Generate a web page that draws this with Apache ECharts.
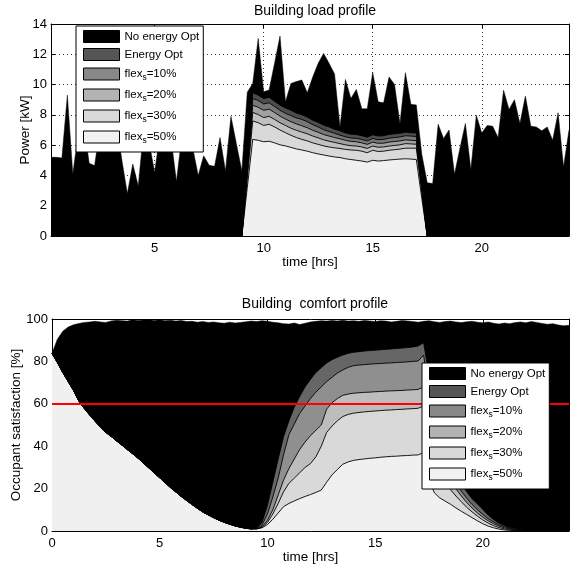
<!DOCTYPE html>
<html>
<head>
<meta charset="utf-8">
<script src="https://cdn.jsdelivr.net/npm/echarts@6/dist/echarts.min.js"></script>
<style>html,body{margin:0;padding:0;background:#fff}#c{width:570px;height:571px}</style>
</head>
<body>
<div id="c"></div>
<script>
// ---------- shared ----------
const STEP = 0.25; // hours between samples
const NAMES = ['No energy Opt', 'Energy Opt', 'flex_s=10%', 'flex_s=20%', 'flex_s=30%', 'flex_s=50%'];
const EXTRA_NAME = 'flex_s=40%';
const LEGEND_COLORS = ['#000000', '#555555', '#888888', '#b3b3b3', '#d9d9d9', '#f2f2f2'];

// ---------- top: Building load profile ----------
const LOAD_T0 = 0.25;
const LOAD_X_TICKS = [5, 10, 15, 20];
const LOAD_NO_OPT = [
  5.2, 5.2, 5.15, 9.3, 4.1, 6.8, 7.5, 4.8,
  4.65, 7.2, 6.6, 8.0, 7.5, 5.0, 2.8, 4.75,
  3.3, 7.0, 6.2, 4.2, 6.8, 7.3, 6.5, 3.6,
  6.6, 6.8, 5.8, 4.0, 5.3, 4.67, 4.6, 6.5,
  4.3, 7.9, 6.1, 4.3, 9.5, 10.07, 13.05, 9.52,
  9.64, 11.4, 13.2, 8.86, 10.07, 10.2, 10.3, 9.46,
  10.5, 11.4, 12.06, 11.4, 10.7, 7.2, 10.34, 9.08,
  9.68, 8.4, 8.4, 10.8, 8.86, 8.8, 10.5, 10.0,
  7.43, 10.78, 8.7, 8.65, 5.4, 3.51, 3.46, 7.38,
  6.44, 7.0, 4.08, 5.8, 7.43, 4.39, 7.98, 6.8,
  7.3, 7.25, 6.5, 9.63, 8.36, 9.0, 7.43, 9.24,
  7.25, 7.2, 6.95, 7.2, 6.33, 8.14, 4.56, 7.0
];
const LOAD_OPT_T0 = 9.0;
const LOAD_ENERGY_OPT = [0, 4.7, 9.46, 9.3, 9.08, 9.15, 8.9, 8.64, 8.45, 8.3, 8.12, 8.0, 7.85, 7.65, 7.5, 7.32, 7.2, 7.05, 6.95, 6.8, 6.72, 6.7, 6.62, 6.52, 6.68, 6.6, 6.62, 6.7, 6.75, 6.78, 6.85, 6.82, 6.8, 3.4, 0];
const LOAD_FLEX10 = [0, 4.5, 9.08, 8.95, 8.72, 8.8, 8.55, 8.3, 8.1, 7.95, 7.8, 7.7, 7.55, 7.35, 7.2, 7.02, 6.9, 6.78, 6.66, 6.55, 6.47, 6.45, 6.38, 6.28, 6.44, 6.36, 6.38, 6.46, 6.5, 6.54, 6.62, 6.6, 6.57, 3.3, 0];
const LOAD_FLEX20 = [0, 4.3, 8.64, 8.5, 8.3, 8.38, 8.15, 7.92, 7.72, 7.55, 7.4, 7.28, 7.15, 6.98, 6.85, 6.7, 6.6, 6.5, 6.42, 6.32, 6.25, 6.22, 6.15, 6.05, 6.2, 6.12, 6.13, 6.2, 6.24, 6.28, 6.35, 6.32, 6.3, 3.15, 0];
const LOAD_FLEX30 = [0, 4.1, 8.16, 8.02, 7.82, 7.9, 7.7, 7.48, 7.3, 7.12, 6.98, 6.86, 6.75, 6.6, 6.48, 6.35, 6.26, 6.18, 6.1, 6.02, 5.96, 5.94, 5.88, 5.78, 5.94, 5.86, 5.88, 5.94, 5.98, 6.02, 6.1, 6.08, 6.06, 3.0, 0];
const LOAD_FLEX40 = [0, 3.8, 7.6, 7.48, 7.3, 7.38, 7.2, 7.0, 6.82, 6.65, 6.5, 6.38, 6.28, 6.15, 6.05, 5.95, 5.88, 5.82, 5.78, 5.72, 5.68, 5.66, 5.6, 5.5, 5.66, 5.58, 5.6, 5.66, 5.7, 5.74, 5.8, 5.8, 5.8, 2.9, 0];
const LOAD_FLEX50 = [0, 3.2, 6.38, 6.32, 6.22, 6.26, 6.15, 6.02, 5.95, 5.85, 5.75, 5.68, 5.6, 5.5, 5.42, 5.35, 5.28, 5.22, 5.18, 5.1, 5.05, 5.0, 4.95, 4.88, 5.0, 4.95, 4.98, 5.02, 5.05, 5.08, 5.1, 5.08, 5.05, 2.5, 0];
const LOAD_COLORS = ['#000000', '#4d4d4d', '#777777', '#a1a1a1', '#c1c1c1', '#d9d9d9', '#f0f0f0'];

// ---------- bottom: Building comfort profile ----------
const COMFORT_T0 = 0;
const COMFORT_X_TICKS = [0, 5, 10, 15, 20];
const COMFORT_THRESHOLD = 60;
const COMFORT_NO_OPT = [
  83.8, 90.5, 94.2, 96.2, 97.3, 97.9, 98.4, 98.6,
  98.9, 98.6, 98.4, 99.1, 99.4, 99.2, 99.0, 99.6,
  99.3, 99.5, 99.7, 99.3, 99.6, 99.2, 99.4, 99.0,
  99.3, 98.8, 98.9, 98.5, 98.8, 98.4, 98.6, 98.2,
  98.0, 98.5, 98.1, 98.4, 98.7, 99.0, 98.8, 99.2,
  98.9, 98.5, 98.2, 97.8, 97.6, 98.1, 97.4, 98.0,
  98.6, 98.9, 99.2, 99.0, 99.3, 99.1, 99.4, 99.0,
  99.2, 98.9, 99.3, 99.1, 98.8, 99.2, 99.0, 98.6,
  98.9, 99.3, 99.1, 98.8, 98.5, 98.9, 99.2, 98.7,
  98.4, 98.8, 99.0, 98.6, 98.3, 98.7, 98.9, 98.5,
  98.2, 98.6, 98.0, 97.6, 98.1, 97.8, 98.3, 98.6,
  98.2, 98.8, 98.4, 97.9, 97.5, 97.8, 97.2, 96.8,
  97.0
];
// all optimised cases share the same night-time decay (0 .. 9.25 h)
const COMFORT_MORNING = [
  83.8, 79.5, 74.8, 70.5, 66.3, 61.2, 57.8, 54.7,
  51.8, 49.0, 46.5, 44.6, 42.5, 40.5, 38.4, 36.4,
  34.3, 32.0, 29.7, 27.4, 25.1, 22.8, 20.5, 18.4,
  16.3, 14.4, 12.5, 10.7, 9.0, 7.6, 6.3, 5.1,
  4.1, 3.2, 2.4, 1.8, 1.3, 1.0
];
// from 9.5 h to 24 h
const COMFORT_ENERGY_OPT = [
  1.5, 4, 12, 23, 34, 44.5, 52, 58.5,
  63.5, 68, 71.5, 74.8, 77, 79.3, 80.8, 82,
  83, 83.8, 84.3, 84.6, 84.9, 85.1, 85.3, 85.5,
  85.7, 85.9, 86.1, 86.3, 86.5, 86.8, 87.3, 88.8,
  74, 60, 48, 39, 32, 26.5, 22.3, 18.5,
  15.2, 12.8, 10.2, 7.5, 5.3, 3.7, 2.6, 1.7,
  1.2, 0.8, 0.5, 0.3, 0.2, 0.15, 0.1, 0.1,
  0.05, 0.05, 0.05
];
const COMFORT_FLEX10 = [
  1.3, 2.8, 8, 16, 25, 36, 45.5, 50.5,
  55.5, 59, 62.5, 65.5, 68, 70.5, 72.5, 74.5,
  76, 77.2, 78, 78.3, 78.5, 78.7, 78.9, 79.0,
  79.2, 79.3, 79.5, 79.6, 79.8, 80.0, 80.2, 83,
  66, 53, 42, 33.5, 27.5, 22.5, 18.8, 15.5,
  12.5, 10, 7.8, 5.8, 4.2, 2.9, 2.0, 1.3,
  0.8, 0.5, 0.3, 0.2, 0.15, 0.1, 0.05, 0.05,
  0.05, 0.05, 0.05
];
const COMFORT_FLEX20 = [
  1.1, 2, 5, 10, 17, 24, 29.5, 34,
  38.5, 42, 45, 47.5, 50, 57.5, 60.5, 62.5,
  64, 64.6, 65, 65.2, 65.4, 65.5, 65.7, 65.8,
  66, 66.1, 66.2, 66.3, 66.5, 66.6, 66.8, 68,
  55, 44, 35.5, 29, 24, 20, 16.5, 13.5,
  10.8, 8.5, 6.5, 4.8, 3.4, 2.3, 1.5, 1.0,
  0.6, 0.4, 0.2, 0.15, 0.1, 0.05, 0.05, 0.05,
  0.05, 0.05, 0.05
];
const COMFORT_FLEX30 = [
  1.0, 1.8, 4, 8, 13, 18.5, 22.5, 25,
  27.5, 30, 31.8, 35, 40, 46.5, 49.5, 52,
  54, 55, 55.6, 55.9, 56.2, 56.4, 56.6, 56.8,
  57, 57.1, 57.3, 57.4, 57.6, 57.7, 57.9, 59,
  45, 34.5, 27.5, 22.8, 19.5, 16.5, 13.8, 11.2,
  9, 7, 5.2, 3.7, 2.5, 1.6, 1.0, 0.6,
  0.35, 0.2, 0.1, 0.1, 0.05, 0.05, 0.05, 0.05,
  0.05, 0.05, 0.05
];
const COMFORT_FLEX50 = [
  1.0, 1.5, 3, 5.5, 8.5, 11.5, 13, 14.2,
  15.3, 16.3, 17.2, 18.2, 19.3, 23, 26.5, 29,
  31.5, 32.6, 33.3, 33.7, 34, 34.3, 34.5, 34.8,
  35, 35.2, 35.3, 35.5, 35.6, 35.8, 35.9, 37,
  24, 18, 15.6, 14.1, 12.6, 10.9, 9.3, 7.8,
  6.3, 4.8, 3.4, 2.3, 1.5, 0.9, 0.5, 0.3,
  0.15, 0.1, 0.05, 0.05, 0.05, 0.05, 0.05, 0.05,
  0.05, 0.05, 0.05
];
const COMFORT_COLORS = ['#000000', '#666666', '#8f8f8f', '#bdbdbd', '#d9d9d9', '#f0f0f0'];

// ---------- helpers ----------
const FONT = 'Liberation Sans, Arial, sans-serif';
function pairs(t0, arr) { return arr.map((v, i) => [t0 + i * STEP, v]); }
function areaSeries(name, data, color, xi, yi, lineColor, lw) {
  return {
    type: 'line', name: name, data: data, xAxisIndex: xi, yAxisIndex: yi,
    showSymbol: false, symbol: 'none', silent: true, animation: false,
    emphasis: { disabled: true },
    lineStyle: { color: lineColor, width: lw },
    itemStyle: { color: color },
    areaStyle: { color: color, opacity: 1 }
  };
}
function legendData() {
  return NAMES.map((n, i) => ({ name: n, itemStyle: { color: LEGEND_COLORS[i], borderColor: '#000', borderWidth: 1 } }));
}
function legend(left, top) {
  return {
    orient: 'vertical', left: left, top: top, z: 10,
    padding: [4, 4, 7, 7], itemGap: 5, itemWidth: 36, itemHeight: 12,
    backgroundColor: '#fff', borderColor: '#000', borderWidth: 1, borderRadius: 0,
    selectedMode: false, icon: 'rect', data: legendData(),
    formatter: n => n.replace('_s', '{s|s}'),
    textStyle: { fontSize: 11.5, color: '#000', fontFamily: FONT, lineHeight: 12,
      rich: { s: { fontSize: 8.5, lineHeight: 7, padding: [7, 0, 0, 0], fontFamily: FONT, color: '#000' } } }
  };
}
const tickStyle = { color: '#000', width: 1 };
function xAxisMain(grid, min, ticks, gap) {
  return {
    gridIndex: grid, type: 'value', min: min, max: 24, position: 'bottom',
    axisLine: { show: true, onZero: false, lineStyle: tickStyle },
    axisTick: { show: true, inside: true, length: 4, customValues: ticks, lineStyle: tickStyle },
    axisLabel: { customValues: ticks, fontSize: 13, color: '#000', fontFamily: FONT, margin: 6 },
    splitLine: { show: false },
    name: 'time [hrs]', nameLocation: 'middle', nameGap: gap, nameMoveOverlap: false,
    nameTextStyle: { fontSize: 13.5, color: '#000', fontFamily: FONT }
  };
}
function xAxisMirror(grid, min, ticks) {
  return {
    gridIndex: grid, type: 'value', min: min, max: 24, position: 'top',
    axisLine: { show: true, onZero: false, lineStyle: tickStyle },
    axisTick: { show: true, inside: true, length: 4, customValues: ticks, lineStyle: tickStyle },
    axisLabel: { show: false }, splitLine: { show: false }
  };
}
function yAxisMain(grid, max, interval, name, gap) {
  return {
    gridIndex: grid, type: 'value', min: 0, max: max, interval: interval, position: 'left',
    axisLine: { show: true, onZero: false, lineStyle: tickStyle },
    axisTick: { show: true, inside: true, length: 4, lineStyle: tickStyle },
    axisLabel: { fontSize: 13, color: '#000', fontFamily: FONT, margin: 4 },
    splitLine: { show: false },
    name: name, nameLocation: 'middle', nameGap: gap, nameMoveOverlap: false,
    nameTextStyle: { fontSize: 13.5, color: '#000', fontFamily: FONT }
  };
}
function yAxisMirror(grid, max, interval) {
  return {
    gridIndex: grid, type: 'value', min: 0, max: max, interval: interval, position: 'right',
    axisLine: { show: true, onZero: false, lineStyle: tickStyle },
    axisTick: { show: true, inside: true, length: 4, lineStyle: tickStyle },
    axisLabel: { show: false }, splitLine: { show: false }
  };
}

// ---------- build ----------
const dotted = { show: true, lineStyle: { color: '#333', width: 1, type: [1, 3] } };
const xTop = xAxisMain(0, LOAD_T0, LOAD_X_TICKS, 19); xTop.splitLine = dotted;
const yTop = yAxisMain(0, 14, 2, 'Power [kW]', 19); yTop.splitLine = dotted;

const loadOpt = [LOAD_ENERGY_OPT, LOAD_FLEX10, LOAD_FLEX20, LOAD_FLEX30, LOAD_FLEX40, LOAD_FLEX50];
const loadNames = ['Energy Opt', 'flex_s=10%', 'flex_s=20%', 'flex_s=30%', EXTRA_NAME, 'flex_s=50%'];
const series = [];
series.push(areaSeries(NAMES[0], pairs(LOAD_T0, LOAD_NO_OPT), LOAD_COLORS[0], 0, 0, '#000', 0.5));
loadOpt.forEach((arr, i) => series.push(areaSeries(loadNames[i], pairs(LOAD_OPT_T0, arr), LOAD_COLORS[i + 1], 0, 0, '#000', 0.9)));

const comfortDay = [COMFORT_ENERGY_OPT, COMFORT_FLEX10, COMFORT_FLEX20, COMFORT_FLEX30, COMFORT_FLEX50];
const dayT0 = COMFORT_T0 + COMFORT_MORNING.length * STEP;
series.push(areaSeries(NAMES[0], pairs(COMFORT_T0, COMFORT_NO_OPT), COMFORT_COLORS[0], 2, 2, '#000', 0.5));
comfortDay.forEach((arr, i) => {
  const d = pairs(COMFORT_T0, COMFORT_MORNING).concat(pairs(dayT0, arr));
  series.push(areaSeries(NAMES[i + 1], d, COMFORT_COLORS[i + 1], 2, 2, '#000', 0.9));
});
series[series.length - 1].markLine = {
  silent: true, animation: false, symbol: ['none', 'none'],
  label: { show: false }, lineStyle: { color: '#ff0000', width: 2.2, type: 'solid' },
  data: [{ yAxis: COMFORT_THRESHOLD }]
};

const option = {
  animation: false,
  backgroundColor: '#fff',
  textStyle: { fontFamily: FONT },
  title: [
    { text: 'Building load profile', left: 310, top: -1, textAlign: 'center',
      textStyle: { fontSize: 14, fontWeight: 'normal', color: '#000', fontFamily: FONT } },
    { text: 'Building  comfort profile', left: 310, top: 292, textAlign: 'center',
      textStyle: { fontSize: 14, fontWeight: 'normal', color: '#000', fontFamily: FONT } }
  ],
  grid: [
    { left: 51, top: 24, width: 518, height: 212, containLabel: false, outerBoundsMode: 'none' },
    { left: 52, top: 319, width: 517, height: 212, containLabel: false, outerBoundsMode: 'none' }
  ],
  legend: [legend(76, 26), legend(422, 363)],
  xAxis: [xTop, xAxisMirror(0, LOAD_T0, LOAD_X_TICKS),
          xAxisMain(1, COMFORT_T0, COMFORT_X_TICKS, 19), xAxisMirror(1, COMFORT_T0, COMFORT_X_TICKS)],
  yAxis: [yTop, yAxisMirror(0, 14, 2),
          yAxisMain(1, 100, 20, 'Occupant satisfaction [%]', 29), yAxisMirror(1, 100, 20)],
  series: series
};

const chart = echarts.init(document.getElementById('c'), null, { renderer: 'canvas' });
chart.setOption(option);
</script>
</body>
</html>
